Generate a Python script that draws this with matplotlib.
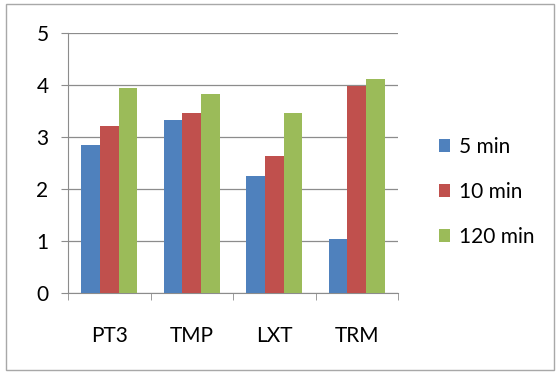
import matplotlib.pyplot as plt
import numpy as np
from matplotlib.patches import FancyBboxPatch

plt.rcParams['font.family'] = ['Lato', 'DejaVu Sans']

categories = ['PT3', 'TMP', 'LXT', 'TRM']
series_names = ['5 min', '10 min', '120 min']
vals_5 = [2.85, 3.33, 2.25, 1.04]
vals_10 = [3.21, 3.47, 2.64, 3.98]
vals_120 = [3.94, 3.83, 3.47, 4.11]
colors = ['#4F81BD', '#C0504D', '#9BBB59']

fig = plt.figure(figsize=(5.6, 3.74), dpi=100)
# outer chart border
fig.patches.append(FancyBboxPatch((0.01, 0.012), 0.98, 0.976,
                                  boxstyle='square,pad=0', transform=fig.transFigure,
                                  fill=False, edgecolor='#A8A8A8', linewidth=1.0))

ax = fig.add_axes([68 / 560, (374 - 293) / 374, 330 / 560, 260 / 374])

x = np.arange(len(categories))
w = 0.227
for i, (vals, name) in enumerate(zip([vals_5, vals_10, vals_120], series_names)):
    ax.bar(x + (i - 1) * w, vals, width=w, color=colors[i], label=name, zorder=3)

ax.set_xlim(-0.5, len(categories) - 0.5)
ax.set_ylim(0, 5)
ax.set_yticks(range(6))
ax.yaxis.grid(True, color='#8C8C8C', linewidth=0.9, zorder=0)

ax.set_xticks(x)
ax.set_xticklabels(categories)
ax.set_xticks(np.arange(-0.5, len(categories)), minor=True)
ax.tick_params(axis='x', which='major', length=0, pad=24, labelsize=15)
ax.tick_params(axis='x', which='minor', length=5, color='#8C8C8C')
ax.tick_params(axis='y', length=5, color='#8C8C8C', labelsize=15, pad=9)

for s in ['top', 'right']:
    ax.spines[s].set_visible(False)
for s in ['left', 'bottom']:
    ax.spines[s].set_color('#8C8C8C')

fig.legend(loc='center left', bbox_to_anchor=(420 / 560, (374 - 192) / 374), frameon=False,
           fontsize=15, handlelength=0.55, handleheight=0.55, handletextpad=0.4,
           labelspacing=1.2)

fig.savefig('out.png', dpi=100)
